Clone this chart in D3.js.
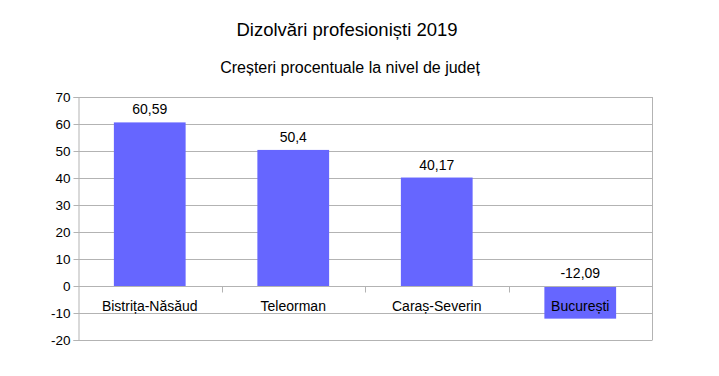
<!DOCTYPE html>
<html><head><meta charset="utf-8">
<script src="https://cdn.jsdelivr.net/npm/d3@7"></script>
<style>body{margin:0;background:#fff}svg{display:block;font-family:"Liberation Sans",Arial,sans-serif}</style>
</head><body><svg id="c" width="719" height="376"></svg>
<script>
const categories = ["Bistrița-Năsăud", "Teleorman", "Caraș-Severin", "București"];
const values = [60.59, 50.4, 40.17, -12.09];
const valueLabels = ["60,59", "50,4", "40,17", "-12,09"];
const yTicks = [-20, -10, 0, 10, 20, 30, 40, 50, 60, 70];
const title = "Dizolvări profesioniști 2019";
const subtitle = "Creșteri procentuale la nivel de județ";

const svg = d3.select("#c");
const L = 78, R = 652, T = 97, B = 340;
const x = d3.scaleBand().domain(categories).range([L, R]).paddingInner(0.5).paddingOuter(0.25);
const xb = d3.scaleBand().domain(categories).range([L, R]);
const y = d3.scaleLinear().domain([-20, 70]).range([B, T]);
const grid = "#b3b3b3";

svg.append("text").attr("x", 347).attr("y", 36).attr("text-anchor", "middle")
  .attr("font-size", 18.5).attr("fill", "#000").text(title);
svg.append("text").attr("x", 350).attr("y", 73).attr("text-anchor", "middle")
  .attr("font-size", 16).attr("fill", "#000").text(subtitle);

// gridlines
svg.append("g").selectAll("line").data(yTicks).join("line")
  .attr("x1", L).attr("x2", R).attr("y1", d => Math.round(y(d)) + 0.5).attr("y2", d => Math.round(y(d)) + 0.5)
  .attr("stroke", grid).attr("stroke-width", 1);

// y axis
const ya = svg.append("g").attr("transform", `translate(${L + 0.5},0)`)
  .call(d3.axisLeft(y).tickValues(yTicks).tickSize(5).tickPadding(3).tickFormat(d => d));
ya.selectAll("path").attr("stroke", grid);
ya.selectAll("line").attr("stroke", grid);
ya.selectAll("text").attr("font-size", 13.5).attr("fill", "#000").attr("font-family", "Liberation Sans, Arial, sans-serif");

// right border
svg.append("line").attr("x1", R + 0.5).attr("x2", R + 0.5).attr("y1", T).attr("y2", B + 0.5).attr("stroke", grid);

// bars
svg.append("g").selectAll("rect").data(values).join("rect")
  .attr("x", (d, i) => x(categories[i]))
  .attr("width", x.bandwidth())
  .attr("y", d => y(Math.max(0, d)))
  .attr("height", d => Math.abs(y(d) - y(0)))
  .attr("fill", "#6666ff");

// zero axis line + category ticks
const y0 = Math.round(y(0)) + 0.5;
svg.append("line").attr("x1", L).attr("x2", R).attr("y1", y0).attr("y2", y0).attr("stroke", grid);
svg.append("g").selectAll("line").data(categories.slice(1)).join("line")
  .attr("x1", d => Math.round(xb(d)) + 0.5).attr("x2", d => Math.round(xb(d)) + 0.5)
  .attr("y1", y0).attr("y2", y0 + 6).attr("stroke", grid);

// category labels
svg.append("g").selectAll("text").data(categories).join("text")
  .attr("x", d => xb(d) + xb.bandwidth() / 2).attr("y", y(0) + 25)
  .attr("text-anchor", "middle").attr("font-size", 14).attr("fill", "#000").text(d => d);

// value labels
svg.append("g").selectAll("text").data(values).join("text")
  .attr("x", (d, i) => x(categories[i]) + x.bandwidth() / 2)
  .attr("y", d => y(Math.max(0, d)) - 8)
  .attr("text-anchor", "middle").attr("font-size", 14).attr("fill", "#000")
  .text((d, i) => valueLabels[i]);
</script></body></html>
